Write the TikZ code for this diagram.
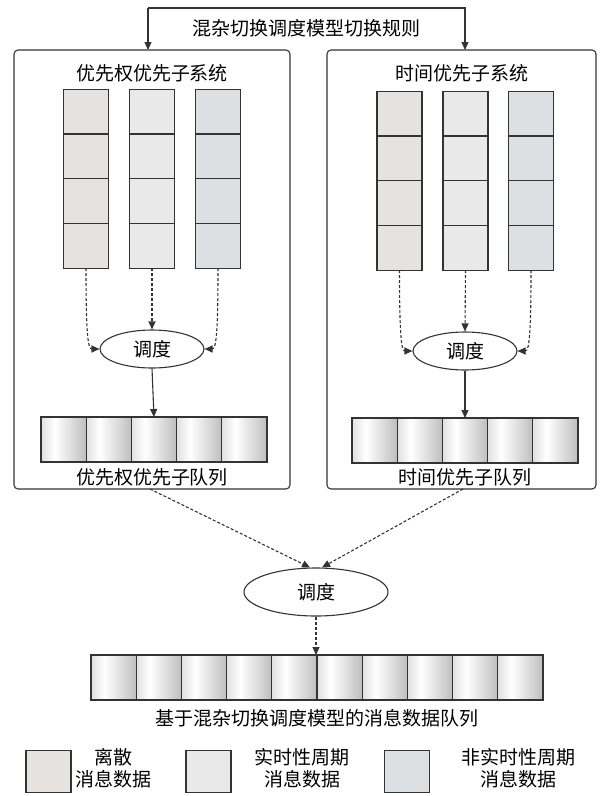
\documentclass[tikz,border=0pt]{standalone}
\usepackage{fontspec}
\setmainfont{Noto Sans CJK SC}
\usetikzlibrary{shapes.geometric,arrows.meta,calc}
\definecolor{cdisc}{HTML}{E6E2E0}
\definecolor{creal}{HTML}{E9E9E9}
\definecolor{cnonr}{HTML}{DCE0E3}
\definecolor{cline}{HTML}{333333}
\pgfdeclarehorizontalshading{qcell}{100bp}{%
  color(0bp)=(black!16); color(25bp)=(black!12); color(40bp)=(white);
  color(65bp)=(black!18); color(100bp)=(black!45)}
\tikzset{
  x=1pt, y=-1pt,
  txt/.style={font=\fontsize{19}{22}\selectfont, inner sep=0pt, text=black},
  sysbox/.style={draw=cline, line width=1.1pt, rounded corners=4pt},
  cell/.style={draw=cline, line width=1.1pt, minimum width=45pt, minimum height=44.5pt, inner sep=0pt, outer sep=0pt},
  qcellst/.style={draw=cline, line width=1.1pt, shading=qcell, minimum width=45.2pt, minimum height=45pt, inner sep=0pt, outer sep=0pt},
  sched/.style={ellipse, draw=cline, line width=1.1pt, inner sep=0pt, font=\fontsize{19}{22}\selectfont},
  arr/.style={draw=cline, line width=1.1pt, -{Triangle[length=8pt,width=7pt]}},
  darr/.style={arr, dash pattern=on 3pt off 2pt},
}
\begin{document}
\begin{tikzpicture}
\useasboundingbox (0,0) rectangle (604,796);

% switching rule bracket
\node[txt] (rule) at (306,28) {混杂切换调度模型切换规则};
\coordinate (rl) at (148,8);
\coordinate (rr) at (465,8);

% two priority subsystems
\draw[sysbox] (14,50) rectangle (290,489);
\draw[sysbox] (327,50) rectangle (596,489);
\coordinate (boxL) at (148,50);
\coordinate (boxR) at (465,50);
\draw[arr] (rl) -- (rr) -- (boxR);
\draw[arr] (rl) -- (boxL);

\node[txt] (tl) at (152,73) {优先权优先子系统};
\node[txt] (tr) at (462,73) {时间优先子系统};

% message columns: left subsystem
\foreach \c/\x/\col in {1/86/cdisc, 2/152/creal, 3/218/cnonr}{
  \foreach \r in {0,...,3}{
    \node[cell, fill=\col] (L\c r\r) at (\x,{111.5+44.8*\r}) {};
  }
}
% message columns: right subsystem
\foreach \c/\x/\col in {1/399.5/cdisc, 2/465.5/creal, 3/531/cnonr}{
  \foreach \r in {0,...,3}{
    \node[cell, fill=\col] (R\c r\r) at (\x,{113.5+44.8*\r}) {};
  }
}

% schedulers inside the subsystems
\node[sched, minimum width=104pt, minimum height=38pt] (sL) at (152,349) {调度};
\node[sched, minimum width=104pt, minimum height=38pt] (sR) at (465,351) {调度};

\draw[darr] (L1r3.south) .. controls (86,335) and (88,349) .. (sL.west);
\draw[darr] (L2r3.south) -- (sL.north);
\draw[darr] (L3r3.south) .. controls (218,335) and (216,349) .. (sL.east);
\draw[darr] (R1r3.south) .. controls (399.5,337) and (401.5,351) .. (sR.west);
\draw[darr] (R2r3.south) -- (sR.north);
\draw[darr] (R3r3.south) .. controls (531,337) and (529,351) .. (sR.east);

% sub-queues
\foreach \i in {0,...,4}{
  \node[qcellst] (qL\i) at ({63.6+45.2*\i},439.5) {};
  \node[qcellst] (qR\i) at ({374.6+45.2*\i},440.5) {};
}
\draw[arr] (sL.south) -- (qL2.north);
\draw[arr] (sR.south) -- (qR2.north);
\node[txt] (lqL) at (152,477) {优先权优先子队列};
\node[txt] (lqR) at (465,477) {时间优先子队列};

% global scheduler
\node[sched, minimum width=144pt, minimum height=48pt] (sG) at (316,592) {调度};
\coordinate (oL) at (150,489);
\coordinate (oR) at (463,489);
\draw[darr] (oL) -- ($(sG.north)+(-6,0)$);
\draw[darr] (oR) -- ($(sG.north)+(6,0)$);

% merged message queue
\foreach \i in {0,...,9}{
  \node[qcellst] (q\i) at ({113.6+45.2*\i},677.5) {};
}
\draw[darr] (sG.south) -- (sG.south |- q4.north);
\node[txt] (lq) at (317,718) {基于混杂切换调度模型的消息数据队列};

% legend
\node[cell, fill=cdisc, minimum width=45pt, minimum height=42pt] (k1) at (48.5,771.5) {};
\node[cell, fill=creal, minimum width=45pt, minimum height=42pt] (k2) at (208.5,771.5) {};
\node[cell, fill=cnonr, minimum width=45pt, minimum height=42pt] (k3) at (407,771.5) {};
\node[txt, align=center, font=\fontsize{19}{22}\selectfont] (t1) at (113,768) {离散\\消息数据};
\node[txt, align=center, font=\fontsize{19}{22}\selectfont] (t2) at (302,768) {实时性周期\\消息数据};
\node[txt, align=center, font=\fontsize{19}{22}\selectfont] (t3) at (518,768) {非实时性周期\\消息数据};
\end{tikzpicture}
\end{document}
